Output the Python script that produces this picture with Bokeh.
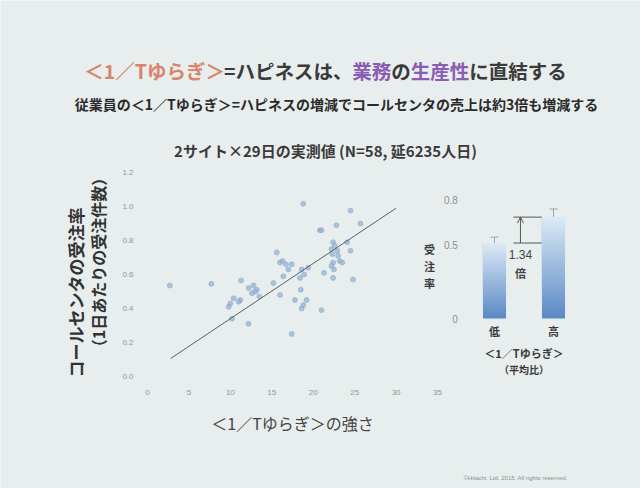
import numpy as np
from bokeh.plotting import figure
from bokeh.models import Range1d, Label, Arrow, OpenHead
from bokeh.embed import file_html
from bokeh.resources import INLINE

# ---------------- data ----------------
title_parts = [("＜1／Tゆらぎ＞", "#d9836a"), ("=ハピネスは、", "#3a3a3a"),
               ("業務", "#8a5db5"), ("の", "#3a3a3a"), ("生産性", "#8a5db5"),
               ("に直結する", "#3a3a3a")]
subtitle = "従業員の＜1／Tゆらぎ＞=ハピネスの増減でコールセンタの売上は約3倍も増減する"
chart_note = "2サイト×29日の実測値 (N=58, 延6235人日)"
x_label = "＜1／Tゆらぎ＞の強さ"
y_label_lines = ["コールセンタの受注率", "（1日あたりの受注件数）"]
x_ticks = [0, 5, 10, 15, 20, 25, 30, 35]
y_ticks = [0.0, 0.2, 0.4, 0.6, 0.8, 1.0, 1.2]

yuragi = [2.7, 7.7, 9.8, 10.0, 10.4, 11.2, 10.2, 11.3, 12.2, 12.8,
          13.2, 12.6, 13.5, 12.2, 15.2, 15.6, 16.0, 16.7, 17.0, 17.4,
          16.4, 16.0, 17.4, 17.8, 18.4, 18.5, 18.6, 18.9, 19.4, 18.8,
          19.2, 18.8, 18.6, 21.0, 20.8, 21.3, 22.4, 22.6, 22.2, 22.9,
          22.8, 24.1, 24.5, 24.5, 25.7, 23.2, 23.5, 22.4, 22.2, 22.5,
          22.4, 24.8, 21.0, 22.3, 23.0, 13.0, 16.3, 11.0]
juchu = [0.535, 0.545, 0.41, 0.43, 0.46, 0.45, 0.34, 0.565, 0.52, 0.535,
         0.51, 0.49, 0.47, 0.31, 0.55, 0.73, 0.67, 0.66, 0.63, 0.66,
         0.59, 0.48, 0.25, 0.45, 0.58, 0.51, 0.63, 0.60, 0.64, 1.016,
         0.45, 0.42, 0.40, 0.39, 0.86, 0.61, 0.79, 0.77, 0.75, 0.74,
         0.89, 0.79, 0.74, 0.976, 0.90, 0.68, 0.67, 0.67, 0.65, 0.63,
         0.58, 0.57, 0.86, 0.72, 0.71, 0.50, 0.68, 0.44]

fit_slope = 0.0325
fit_intercept = 0.015
fit_x_span = [2.8, 30.0]

bar_categories = ["低", "高"]
bar_values = [0.51, 0.685]
bar_errors = [0.04, 0.055]
bar_ticks = [0, 0.5, 0.8]
bar_y_label = "受注率"
bar_x_label = ["＜1／Tゆらぎ＞", "（平均比）"]
ratio_unit = "倍"
footer = "©Hitachi, Ltd. 2015. All rights reserved."

# ---------------- layout (canvas pixel anchors) ----------------
W, H = 640, 488
X0, XPX = 147, 8.286       # scatter: x=0 at canvas 147, px per unit
Y0, YPX = 376, 170         # scatter: y=0 at canvas 376 (from top), px per unit
BX0, BXPX = 494, 59        # bars: first bar centre, px per bar step
BY0, BYPX = 318, 148       # bars: zero line, px per unit
BG = "#e8eeee"
JP = "Noto Sans CJK JP"
NUM = "Liberation Sans"

p = figure(width=W, height=H, output_backend="svg", toolbar_location=None,
           x_range=Range1d(-X0 / XPX, (W - X0) / XPX),
           y_range=Range1d(-(H - Y0) / YPX, Y0 / YPX),
           x_axis_location=None, y_axis_location=None,
           min_border=0)
p.background_fill_color = BG
p.border_fill_color = BG
p.outline_line_color = None
p.grid.visible = False

p.extra_x_ranges = {"px": Range1d(0, W),
                    "bx": Range1d(-BX0 / BXPX, (W - BX0) / BXPX)}
p.extra_y_ranges = {"px": Range1d(H, 0),
                    "by": Range1d(-(H - BY0) / BYPX, BY0 / BYPX)}


def lab(text, x, y, size, color="#333333", bold=True, align="center",
        xr="px", yr="px", angle=0.0, font=JP):
    kw = {}
    if xr != "default":
        kw["x_range_name"] = xr
    if yr != "default":
        kw["y_range_name"] = yr
    p.add_layout(Label(x=x, y=y, text=text,
                       text_font=font, text_font_size=f"{size}px",
                       text_font_style="bold" if bold else "normal",
                       text_color=color, text_align=align,
                       text_baseline="middle", angle=angle, **kw))


def tw(s, size):
    w = 0.0
    for ch in s:
        if ord(ch) < 0x2000:
            w += 0.3 if ch in " ,.()" else 0.58
        else:
            w += 1.0
    return w * size


# title (multi-colour)
TS = 19.5
total = sum(tw(t, TS) for t, _ in title_parts)
cx = 325 - total / 2
for t, c in title_parts:
    lab(t, cx, 70, TS, color=c, align="left")
    cx += tw(t, TS)

lab(subtitle, 336, 103, 14, color="#2a2a2a")
lab(chart_note, 325, 150, 15, color="#3a3a3a")

# scatter tick labels (from tick lists, through the scatter scales)
for t in y_ticks:
    lab(f"{t:.1f}", 133, t, 8, color="#8f9696", bold=False, align="right",
        xr="px", yr="default", font=NUM)
for t in x_ticks:
    lab(f"{t}", t, 392, 8, color="#8f9696", bold=False,
        xr="default", yr="px", font=NUM)

# scatter
p.scatter(yuragi, juchu, size=5, fill_color="#92b0d2", line_color="#86a5c8",
          fill_alpha=0.7, line_alpha=0.5)
fx = np.array(fit_x_span)
p.line(fx, fit_slope * fx + fit_intercept, line_color="#5a5f62", line_width=1)

lab(x_label, 292, 422, 16, color="#454545", bold=False)
lab(y_label_lines[0], 75, 292, 17, color="#333333", angle=np.pi / 2)
lab(y_label_lines[1], 97, 262, 16, color="#333333", angle=np.pi / 2)

# bar chart with vertical gradient
n = 40
bot_c = np.array([92, 138, 198])
top_c = np.array([218, 233, 245])
bx, bb, bt, bc = [], [], [], []
for i, v in enumerate(bar_values):
    for k in range(n):
        f = k / (n - 1)
        rgb = (bot_c + (top_c - bot_c) * f).astype(int)
        bx.append(i)
        bb.append(v * k / n)
        bt.append(v)
        bc.append("#%02x%02x%02x" % tuple(rgb))
p.vbar(x=bx, bottom=bb, top=bt, width=0.39, fill_color=bc, line_color=None,
       x_range_name="bx", y_range_name="by")

idx = list(range(len(bar_values)))
tops = [v + e for v, e in zip(bar_values, bar_errors)]
p.segment(x0=idx, y0=bar_values, x1=idx, y1=tops, line_color="#9aa5ae",
          line_width=1, x_range_name="bx", y_range_name="by")
p.segment(x0=[i - 0.07 for i in idx], y0=tops, x1=[i + 0.07 for i in idx], y1=tops,
          line_color="#9aa5ae", line_width=1, x_range_name="bx", y_range_name="by")

# ratio bracket
p.segment(x0=[0.32, 0.32], y0=bar_values, x1=[0.80, 0.80], y1=bar_values,
          line_color="#555555", line_width=1, x_range_name="bx", y_range_name="by")
p.add_layout(Arrow(x_start=0.44, y_start=bar_values[0], x_end=0.44, y_end=bar_values[1],
                   end=OpenHead(size=6, line_color="#555555", line_width=1),
                   line_color="#555555", line_width=1,
                   x_range_name="bx", y_range_name="by"))
ratio = bar_values[1] / bar_values[0]
lab(f"{ratio:.2f}", 0.44, 0.43, 12, color="#444444", xr="bx", yr="by", bold=False, font=NUM)
lab(ratio_unit, 0.44, 0.31, 11, color="#444444", xr="bx", yr="by")

for t in bar_ticks:
    lab(f"{t:g}", -0.62, t, 10, color="#8a9090", bold=False, align="right",
        xr="bx", yr="by", font=NUM)
for j, ch in enumerate(bar_y_label):
    lab(ch, -1.1, 0.47 - j * 0.115, 11, color="#3a3a3a", xr="bx", yr="by")
for i, c in enumerate(bar_categories):
    lab(c, i, -0.085, 11, color="#3a3a3a", xr="bx", yr="by")
lab(bar_x_label[0], 0.5, -0.235, 11, color="#3a3a3a", xr="bx", yr="by")
lab(bar_x_label[1], 0.5, -0.345, 10, color="#3a3a3a", xr="bx", yr="by")

lab(footer, 515, 477, 6, color="#8a9090", bold=False, font=NUM)

open("out.html", "w").write(file_html(p, INLINE))
